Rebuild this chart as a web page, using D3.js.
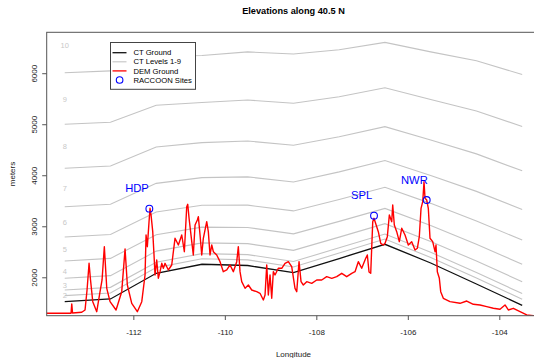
<!DOCTYPE html>
<html>
<head>
<meta charset="utf-8">
<script src="https://cdn.jsdelivr.net/npm/d3@7"></script>
<style>
  html, body { margin: 0; padding: 0; background: #fff; }
  svg { display: block; font-family: "Liberation Sans", Arial, Helvetica, sans-serif; }
</style>
</head>
<body>
<svg id="chart" width="534" height="358"></svg>
<script>
// ---------------- DATA ----------------
const title = "Elevations along 40.5 N";
const xLabel = "Longitude";
const yLabel = "meters";
const xTicks = [-112, -110, -108, -106, -104];
const yTicks = [2000, 3000, 4000, 5000, 6000];

// CT model knots (longitude)
const knotLon = [-113.5, -112.5, -111.5, -110.5, -109.5, -108.5, -107.5, -106.5, -105.5, -104.5, -103.5];
const ctGround = [1522, 1575, 2078, 2255, 2231, 2090, 2368, 2647, 2280, 1869, 1451];
const ctLevel2  = [1640, 1693, 2190, 2363, 2341, 2203, 2476, 2751, 2389, 1984, 1570];
const ctLevel3  = [1751, 1803, 2295, 2464, 2445, 2309, 2577, 2849, 2491, 2092, 1682];
const ctLevel4  = [1981, 2032, 2513, 2674, 2659, 2528, 2787, 3052, 2703, 2317, 1914];
const ctLevel5  = [2320, 2370, 2834, 2983, 2976, 2852, 3096, 3351, 3016, 2647, 2255];
const ctLevel6  = [2790, 2838, 3279, 3411, 3414, 3301, 3524, 3765, 3449, 3105, 2729];
const ctLevel7  = [3384, 3430, 3841, 3953, 3968, 3868, 4066, 4289, 3997, 3684, 3328];
const ctLevel8  = [4137, 4180, 4554, 4640, 4671, 4587, 4753, 4953, 4691, 4419, 4087];
const ctLevel9  = [4999, 5038, 5371, 5426, 5475, 5411, 5539, 5714, 5486, 5259, 4956];
const ctLevel10 = [6010, 6045, 6328, 6348, 6418, 6376, 6461, 6605, 6418, 6245, 5975];
const levelLabels = ["2", "3", "4", "5", "6", "7", "8", "9", "10"];
const levelLabelElev = [1639, 1843, 2123, 2549, 3078, 3744, 4560, 5495, 6553];

// DEM ground profile
const demLon = [-113.908, -113.362, -113.346, -113.329, -113.128, -113.056, -113.012, -112.968, -112.936, -112.887,
  -112.800, -112.728, -112.684, -112.634, -112.581, -112.509, -112.378, -112.254, -112.181, -112.131,
  -112.035, -111.913, -111.816, -111.744, -111.722, -111.694, -111.657, -111.635, -111.613, -111.576,
  -111.548, -111.526, -111.489, -111.454, -111.416, -111.379, -111.344, -111.307, -111.235, -111.161,
  -111.089, -111.016, -110.942, -110.885, -110.833, -110.811, -110.782, -110.723, -110.689, -110.651,
  -110.601, -110.579, -110.542, -110.505, -110.470, -110.396, -110.361, -110.324, -110.286, -110.251,
  -110.177, -110.105, -110.033, -109.958, -109.886, -109.814, -109.740, -109.705, -109.668, -109.631,
  -109.558, -109.486, -109.412, -109.303, -109.231, -109.158, -109.121, -109.084, -109.049, -109.012,
  -108.975, -108.940, -108.903, -108.831, -108.756, -108.684, -108.612, -108.538, -108.466, -108.428,
  -108.378, -108.334, -108.284, -108.210, -108.101, -107.991, -107.882, -107.773, -107.663, -107.554,
  -107.445, -107.336, -107.226, -107.154, -107.082, -107.008, -106.920, -106.885, -106.848, -106.811,
  -106.767, -106.739, -106.680, -106.645, -106.592, -106.535, -106.498, -106.448, -106.404, -106.352,
  -106.330, -106.295, -106.243, -106.186, -106.133, -106.061, -105.989, -105.915, -105.842, -105.792,
  -105.749, -105.711, -105.674, -105.646, -105.624, -105.587, -105.552, -105.515, -105.456, -105.405,
  -105.384, -105.355, -105.311, -105.281, -105.224, -105.078, -104.859, -104.712, -104.568, -104.422,
  -104.275, -104.131, -103.985, -103.875, -103.803, -103.694, -103.547, -103.401, -103.257, -103.110];
const demElev = [1294, 1294, 1477, 1300, 1314, 1359, 1751, 2274, 1947, 1522,
  1326, 1718, 1947, 2600, 1784, 1522, 1359, 1718, 2555, 1849,
  1490, 1326, 1522, 2045, 2829, 2600, 3090, 3352, 3221, 2894,
  2437, 2045, 2339, 1980, 2110, 2274, 2176, 2274, 2143, 2241,
  2764, 2633, 2829, 2502, 3384, 3431, 3156, 2698, 2437, 3025,
  3123, 3188, 2829, 2437, 2764, 3090, 2894, 2437, 2633, 2502,
  2437, 2306, 2110, 2143, 2241, 2110, 2306, 2600, 2110, 1914,
  1784, 1849, 1751, 1718, 1686, 1555, 1653, 2241, 1653, 2045,
  1588, 2110, 2045, 2176, 2176, 2274, 2306, 2208, 1784, 1718,
  2306, 1914, 1849, 1914, 1882, 1947, 1947, 2012, 1980, 2012,
  2078, 2012, 2078, 2110, 2306, 2176, 2372, 2437, 2104, 2078,
  3090, 3156, 2992, 2894, 2666, 2633, 2666, 2796, 3221, 3090,
  3417, 3025, 2894, 2698, 2960, 2829, 2633, 2698, 2535, 2568,
  2796, 3352, 3482, 3874, 3548, 3515, 3352, 2764, 2698, 2502,
  2633, 2110, 1980, 1718, 1588, 1522, 1490, 1535, 1471, 1457,
  1424, 1392, 1373, 1457, 1359, 1392, 1326, 1261, 1247, 1251];

// RACCOON sites
const siteNames = ["HDP", "SPL", "NWR"];
const siteLon = [-111.650, -106.739, -105.587];
const siteElev = [3345, 3207, 3515];

const legendLabels = ["CT Ground", "CT Levels 1-9", "DEM Ground", "RACCOON Sites"];

// ---------------- LAYOUT ----------------
const svg = d3.select("#chart");
const plot = { left: 46.7, right: 540.3, top: 32.3, bottom: 315.7 };
const x = d3.scaleLinear().domain([-113.894, -103.104]).range([plot.left, plot.right]);
const y = d3.scaleLinear().domain([1247, 6802]).range([plot.bottom, plot.top]);

svg.append("rect").attr("width", 534).attr("height", 358).attr("fill", "#fff");

svg.append("defs").append("clipPath").attr("id", "clip")
  .append("rect").attr("x", plot.left).attr("y", plot.top)
  .attr("width", plot.right - plot.left).attr("height", plot.bottom - plot.top);

const g = svg.append("g").attr("clip-path", "url(#clip)");
const line = d3.line().x(d => x(d[0])).y(d => y(d[1]));

const levels = [ctLevel2, ctLevel3, ctLevel4, ctLevel5, ctLevel6, ctLevel7, ctLevel8, ctLevel9, ctLevel10];
levels.forEach(lv => {
  g.append("path").datum(knotLon.map((lon, i) => [lon, lv[i]]))
    .attr("d", line).attr("fill", "none").attr("stroke", "#c4c4c4").attr("stroke-width", 1.1);
});

// level labels
g.selectAll("text.lvl").data(levelLabels).enter().append("text")
  .attr("class", "lvl")
  .attr("x", x(knotLon[0]))
  .attr("y", (d, i) => y(levelLabelElev[i]))
  .attr("dy", "0.35em")
  .attr("text-anchor", "middle")
  .attr("font-size", 7.5)
  .attr("fill", "#c8c8c8")
  .text(d => d);

g.append("path").datum(knotLon.map((lon, i) => [lon, ctGround[i]]))
  .attr("d", line).attr("fill", "none").attr("stroke", "#111").attr("stroke-width", 1.3);

g.append("path").datum(demLon.map((lon, i) => [lon, demElev[i]]))
  .attr("d", line).attr("fill", "none").attr("stroke", "#ff0000").attr("stroke-width", 1.4)
  .attr("stroke-linejoin", "round");

// sites
g.selectAll("circle.site").data(siteNames).enter().append("circle")
  .attr("cx", (d, i) => x(siteLon[i])).attr("cy", (d, i) => y(siteElev[i]))
  .attr("r", 3.4).attr("fill", "none").attr("stroke", "#0000ff").attr("stroke-width", 1.1);
g.selectAll("text.site").data(siteNames).enter().append("text")
  .attr("x", (d, i) => x(siteLon[i] - 0.27)).attr("y", (d, i) => y(siteElev[i] + 400))
  .attr("dy", "0.36em").attr("text-anchor", "middle")
  .attr("font-size", 11.2).attr("fill", "#0000ff").text(d => d);

// frame
svg.append("rect").attr("x", plot.left).attr("y", plot.top)
  .attr("width", plot.right - plot.left).attr("height", plot.bottom - plot.top)
  .attr("fill", "none").attr("stroke", "#555").attr("stroke-width", 1);

// x axis
const xAxis = svg.append("g").attr("transform", `translate(0,${plot.bottom})`)
  .call(d3.axisBottom(x).tickValues(xTicks).tickSize(4.3).tickPadding(9).tickFormat(d3.format("d")));
xAxis.select(".domain").remove();
xAxis.selectAll("line").attr("stroke", "#555");
xAxis.selectAll("text").attr("font-size", 8).attr("fill", "#222")
  .attr("font-family", "Liberation Sans, Arial, sans-serif")
  .text(d => (d < 0 ? "-" : "") + Math.abs(d));

// y axis
const yAxis = svg.append("g").attr("transform", `translate(${plot.left},0)`)
  .call(d3.axisLeft(y).tickValues(yTicks).tickSize(4.5).tickFormat(d3.format("d")));
yAxis.select(".domain").remove();
yAxis.selectAll("line").attr("stroke", "#555");
yAxis.selectAll("text").attr("font-size", 8).attr("fill", "#222")
  .attr("font-family", "Liberation Sans, Arial, sans-serif")
  .attr("transform", "rotate(-90)").attr("x", 0).attr("y", -10.2).attr("dy", 0)
  .attr("text-anchor", "middle");

// titles
svg.append("text").attr("x", 293.5).attr("y", 13.6).attr("text-anchor", "middle")
  .attr("font-size", 9.2).attr("font-weight", "bold").attr("fill", "#000").text(title);
svg.append("text").attr("x", 293.5).attr("y", 357).attr("text-anchor", "middle")
  .attr("font-size", 8).attr("fill", "#222").text(xLabel);
svg.append("text").attr("transform", `translate(14.5,${(plot.top + plot.bottom) / 2}) rotate(-90)`)
  .attr("text-anchor", "middle").attr("font-size", 8).attr("fill", "#222").text(yLabel);

// legend
const lg = svg.append("g");
lg.append("rect").attr("x", 110.5).attr("y", 42.5).attr("width", 85).attr("height", 46.8)
  .attr("fill", "#fff").attr("stroke", "#444").attr("stroke-width", 1);
const rowY = i => 52.7 + i * 9.1;
const legendStyles = [
  { stroke: "#111", w: 1.3 },
  { stroke: "#c4c4c4", w: 1.1 },
  { stroke: "#ff0000", w: 1.3 }
];
legendLabels.forEach((lab, i) => {
  if (i < 3) {
    lg.append("line").attr("x1", 112.5).attr("x2", 126.5).attr("y1", rowY(i)).attr("y2", rowY(i))
      .attr("stroke", legendStyles[i].stroke).attr("stroke-width", legendStyles[i].w);
  } else {
    lg.append("circle").attr("cx", 119.6).attr("cy", rowY(i)).attr("r", 3.3)
      .attr("fill", "none").attr("stroke", "#0000ff").attr("stroke-width", 1.1);
  }
  lg.append("text").attr("x", 133.4).attr("y", rowY(i)).attr("dy", "0.35em")
    .attr("font-size", 7.7).attr("fill", "#000").text(lab);
});
</script>
</body>
</html>
